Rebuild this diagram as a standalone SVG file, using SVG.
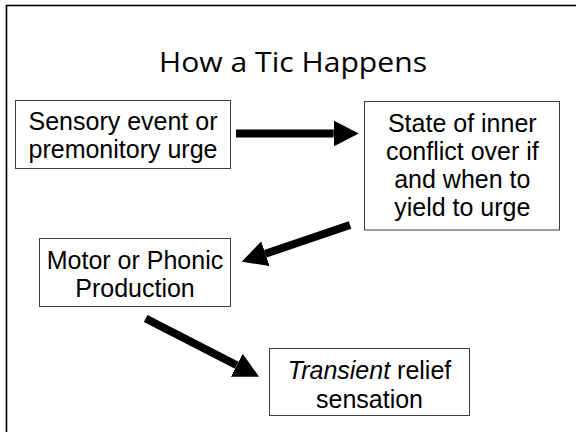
<svg xmlns="http://www.w3.org/2000/svg" width="576" height="432" viewBox="0 0 576 432">
  <style>
    .box { fill: #ffffff; stroke: #3f3f3f; stroke-width: 1; }
    .lbl { font-family: "Liberation Sans", Arial, sans-serif; font-size: 25px; fill: #000000; text-anchor: middle; }
    .title { font-family: "Open Sans", "Noto Sans", sans-serif; font-size: 28px; fill: #000000; text-anchor: middle; }
    .conn { stroke: #000000; stroke-width: 8; fill: none; marker-end: url(#head); }
  </style>
  <defs>
    <marker id="head" markerUnits="userSpaceOnUse" viewBox="0 -13 25 26" refX="0" refY="0" markerWidth="25" markerHeight="26" orient="auto">
      <path d="M0,-13 L25,0 L0,13 Z" fill="#000000"/>
    </marker>
  </defs>
  <rect x="0" y="0" width="576" height="432" fill="#ffffff"/>
  <rect x="6.5" y="5.5" width="620" height="500" fill="none" stroke="#000000" stroke-width="1.6"/>
  <text class="title" x="293" y="72" textLength="268" lengthAdjust="spacingAndGlyphs">How a Tic Happens</text>

  <g id="connectors">
    <line class="conn" x1="236" y1="133.5" x2="333.7" y2="133.5"/>
    <line class="conn" x1="350" y1="225" x2="265.4" y2="253.7"/>
    <line class="conn" x1="145.7" y1="318.5" x2="236.8" y2="365.3"/>
  </g>

  <g id="node-sensory">
    <rect class="box" x="15.5" y="100.5" width="215" height="68"/>
    <text class="lbl" x="123" y="129.5">Sensory event or</text>
    <text class="lbl" x="123" y="157.5">premonitory urge</text>
  </g>

  <g id="node-conflict">
    <rect class="box" x="364.5" y="101.5" width="195" height="128.5"/>
    <text class="lbl" x="462.3" y="131.5">State of inner</text>
    <text class="lbl" x="462.3" y="159.8">conflict over if</text>
    <text class="lbl" x="462.3" y="188">and when to</text>
    <text class="lbl" x="462.3" y="216.2">yield to urge</text>
  </g>

  <g id="node-motor">
    <rect class="box" x="39.5" y="238.5" width="191" height="68"/>
    <text class="lbl" x="135" y="269">Motor or Phonic</text>
    <text class="lbl" x="135" y="297">Production</text>
  </g>

  <g id="node-relief">
    <rect class="box" x="269.5" y="348.5" width="200" height="67"/>
    <text class="lbl" x="369.5" y="379"><tspan font-style="italic">Transient</tspan> relief</text>
    <text class="lbl" x="369.5" y="407.5">sensation</text>
  </g>
</svg>
